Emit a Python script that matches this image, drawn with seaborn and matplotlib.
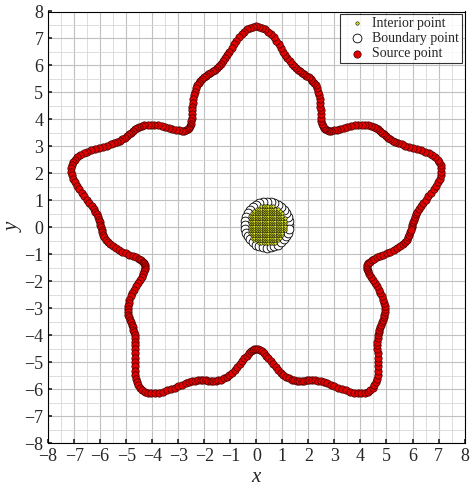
import matplotlib
matplotlib.use('Agg')
import matplotlib.pyplot as plt
import numpy as np
import pandas as pd
import seaborn as sns

# shape parameters (flower-like source curve)
source_mean_radius = 5.97
source_lobe_amp = 1.18
source_ripple_amp = 0.30
source_lobes = 5
source_count = 400

# boundary / interior circle
circle_center = (0.4, 0.1)
boundary_radius = 0.85
boundary_count = 36
interior_radius = 0.75
interior_step = 0.09

ticks = list(range(-8, 9))

sns.set_theme(style='white')
plt.rcParams['font.family'] = ['Liberation Serif', 'DejaVu Serif']

th = np.linspace(0, 2 * np.pi, source_count, endpoint=False)
phi = th - np.pi / 2
r = source_mean_radius + source_lobe_amp * np.cos(source_lobes * phi) + source_ripple_amp * np.cos(3 * source_lobes * phi)
src = pd.DataFrame({'x': r * np.cos(th), 'y': r * np.sin(th)})

tb = np.linspace(0, 2 * np.pi, boundary_count, endpoint=False)
bnd = pd.DataFrame({'x': circle_center[0] + boundary_radius * np.cos(tb),
                    'y': circle_center[1] + boundary_radius * np.sin(tb)})

g = np.arange(-interior_radius, interior_radius + 1e-9, interior_step)
gx, gy = np.meshgrid(g, g)
mask = gx ** 2 + gy ** 2 <= interior_radius ** 2
inn = pd.DataFrame({'x': gx[mask] + circle_center[0], 'y': gy[mask] + circle_center[1]})

fig, ax = plt.subplots(figsize=(4.74, 4.92), dpi=100)
sns.scatterplot(data=inn, x='x', y='y', ax=ax, s=6, color='#d9e021', edgecolor='black', linewidth=0.4, label='Interior point', zorder=3)
sns.scatterplot(data=bnd, x='x', y='y', ax=ax, s=40, color='white', edgecolor='black', linewidth=0.6, label='Boundary point', zorder=2)
sns.scatterplot(data=src, x='x', y='y', ax=ax, s=28, color='#e00000', edgecolor='#400000', linewidth=0.5, label='Source point', zorder=2)

ax.set_xlim(-8, 8)
ax.set_ylim(-8, 8)
ax.set_xticks(ticks)
ax.set_yticks(ticks)
ax.set_xticks(np.arange(-8, 8.01, 0.5), minor=True)
ax.set_yticks(np.arange(-8, 8.01, 0.5), minor=True)
ax.grid(True, which='major', color='#c0c0c0', linewidth=0.8)
ax.grid(True, which='minor', color='#d8d8d8', linewidth=0.6)
ax.set_axisbelow(True)
ax.tick_params(direction='in', labelsize=13, length=3, which='major', left=True, bottom=True)
ax.tick_params(which='minor', length=0)
for sp in ax.spines.values():
    sp.set_color('black')
    sp.set_linewidth(0.8)
ax.set_xlabel('x', fontsize=15, style='italic', labelpad=2)
ax.set_ylabel('y', fontsize=15, style='italic', labelpad=0)
leg = ax.legend(loc='upper right', fontsize=10, frameon=True, fancybox=False, edgecolor='black',
                borderpad=0.2, handletextpad=0.1, labelspacing=0.15, borderaxespad=0.2)
leg.get_frame().set_linewidth(0.8)
plt.tight_layout(pad=0.3)
plt.savefig('out.png', dpi=100)
